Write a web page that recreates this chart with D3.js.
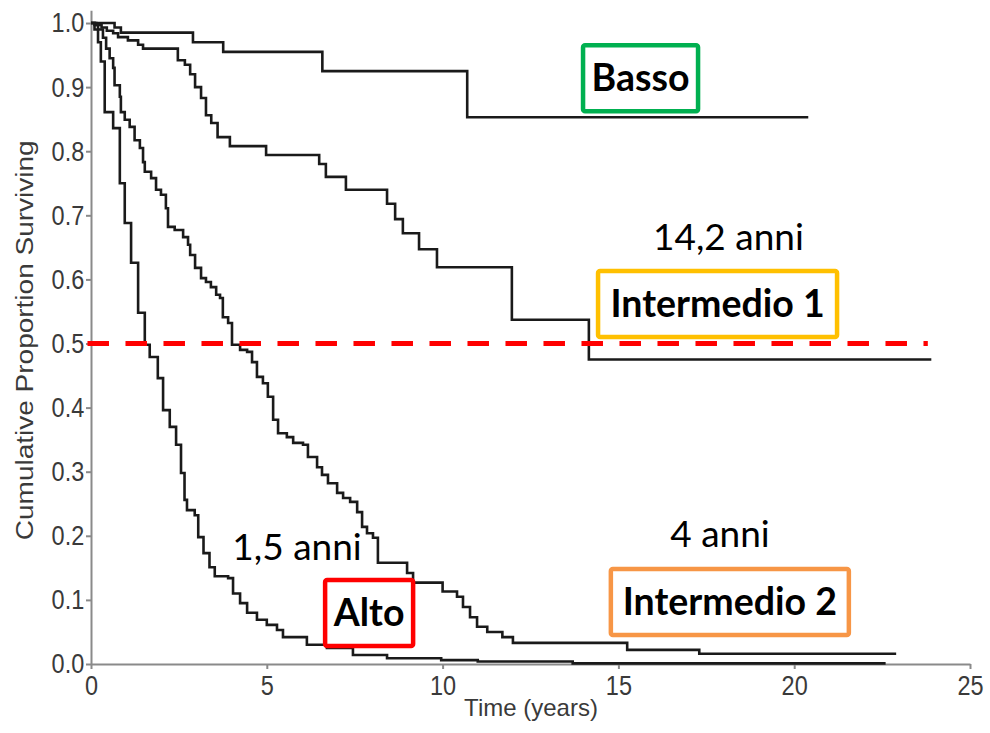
<!DOCTYPE html>
<meta charset="utf-8">
<style>
body { margin: 0; background: #fff; }
svg { display: block; }
.axis path, .axis line { stroke: #8a8a8a; stroke-width: 2; }
.axis text { font-family: "Liberation Sans", Arial, sans-serif; font-size: 28px; fill: #3a3a3a; }
.title { font-family: "Liberation Sans", Arial, sans-serif; fill: #3a3a3a; }
.curve { fill: none; stroke: #1a1a1a; stroke-width: 2.6; }
.note { font-family: Lato, "Open Sans", sans-serif; fill: #000; }
</style>
<body>
<div id="chart-container"></div>
<script src="https://cdnjs.cloudflare.com/ajax/libs/d3/7.8.5/d3.min.js"></script>
<script>
// Kaplan-Meier curves: time in years, proportion surviving
var bassoT = [0, 0.67, 0.85, 2.9, 3.76, 6.58, 10.7, 20.4];
var bassoS = [1, 0.993, 0.985, 0.97, 0.955, 0.925, 0.853, 0.853];

var int1T = [0, 0.15, 0.3, 0.45, 0.63, 0.77, 1.05, 1.34, 1.48, 2.47, 2.67, 2.82, 2.96, 3.13, 3.27, 3.42, 3.6, 3.95, 4.98, 6.49, 6.68, 7.25, 8.42, 8.65, 8.87, 9.33, 9.84, 11.97, 14.16, 23.9];
var int1S = [1, 0.997, 0.993, 0.988, 0.984, 0.978, 0.973, 0.966, 0.96, 0.942, 0.935, 0.92, 0.9, 0.883, 0.856, 0.844, 0.822, 0.808, 0.794, 0.78, 0.76, 0.74, 0.718, 0.694, 0.672, 0.647, 0.619, 0.537, 0.475, 0.475];

var int2T = [0, 0.1, 0.2, 0.34, 0.43, 0.53, 0.63, 0.67, 0.82, 0.85, 0.96, 1.1, 1.24, 1.39, 1.48, 1.53, 1.71, 1.85, 1.99, 2.13, 2.19, 2.38, 2.62, 2.76, 2.82, 2.96, 3.13, 3.27, 3.41, 3.56, 3.67, 3.75, 3.9, 4.01, 4.24, 4.44, 4.58, 4.72, 4.89, 5.03, 5.18, 5.32, 5.57, 5.75, 6.03, 6.17, 6.43, 6.57, 6.74, 7.0, 7.17, 7.37, 7.57, 7.71, 7.85, 8.02, 8.16, 8.99, 9.16, 10.0, 10.41, 10.58, 10.78, 10.98, 11.27, 11.7, 12.0, 15.25, 17.3, 22.9];
var int2S = [1, 0.997, 0.99, 0.977, 0.96, 0.945, 0.93, 0.903, 0.885, 0.861, 0.849, 0.838, 0.817, 0.805, 0.783, 0.768, 0.758, 0.74, 0.732, 0.711, 0.682, 0.677, 0.666, 0.654, 0.638, 0.618, 0.602, 0.596, 0.588, 0.576, 0.571, 0.541, 0.532, 0.498, 0.49, 0.487, 0.471, 0.448, 0.438, 0.417, 0.381, 0.36, 0.354, 0.345, 0.342, 0.323, 0.307, 0.295, 0.282, 0.267, 0.259, 0.253, 0.237, 0.214, 0.204, 0.197, 0.158, 0.142, 0.127, 0.113, 0.105, 0.089, 0.073, 0.058, 0.05, 0.042, 0.033, 0.022, 0.016, 0.016];

var altoT = [0, 0.1, 0.2, 0.28, 0.39, 0.63, 0.82, 0.96, 1.14, 1.34, 1.53, 1.67, 1.9, 2.05, 2.24, 2.42, 2.56, 2.66, 2.73, 2.95, 3.05, 3.2, 3.37, 3.52, 3.9, 4.04, 4.24, 4.44, 4.72, 5.0, 5.29, 5.46, 5.95, 6.14, 6.71, 7.45, 8.42, 9.96, 11.0, 13.7, 22.6];
var altoS = [1, 0.99, 0.97, 0.94, 0.861, 0.836, 0.75, 0.688, 0.626, 0.548, 0.498, 0.479, 0.446, 0.396, 0.37, 0.342, 0.298, 0.256, 0.24, 0.232, 0.198, 0.173, 0.151, 0.137, 0.134, 0.11, 0.095, 0.08, 0.069, 0.061, 0.053, 0.042, 0.042, 0.03, 0.025, 0.014, 0.009, 0.006, 0.004, 0.001, 0.001];

var xTicks = [0, 5, 10, 15, 20, 25];
var yTicks = [0, 0.1, 0.2, 0.3, 0.4, 0.5, 0.6, 0.7, 0.8, 0.9, 1.0];
var median = 0.5;

// risk group tags: name, colour, centre (years, proportion)
var tagNames = ["Basso", "Intermedio 1", "Alto", "Intermedio 2"];
var tagColors = ["#00b050", "#ffc000", "#ff0000", "#f79646"];
var tagT = [15.63, 17.82, 7.91, 18.17];
var tagS = [0.914, 0.5616, 0.0796, 0.0967];
var tagW = [115, 239, 88, 238];

// median survival notes
var noteText = ["14,2 anni", "1,5 anni", "4 anni"];
var noteT = [18.13, 5.86, 17.89];
var noteS = [0.646, 0.162, 0.1825];

var width = 990, height = 733;
var svg = d3.select("#chart-container").append("svg")
    .attr("width", width)
    .attr("height", height);

var x = d3.scaleLinear().domain([0, 25]).range([91, 970]);
var y = d3.scaleLinear().domain([0, 1.02]).range([664, 10.2]);

// axes, with the squeezed look of the original figure
var xAxis = d3.axisBottom(x).tickValues(xTicks).tickSize(5).tickSizeOuter(0).tickPadding(6);
var yAxis = d3.axisLeft(y).tickValues(yTicks).tickFormat(d3.format(".1f")).tickSize(5).tickSizeOuter(0).tickPadding(3);

svg.append("g")
    .attr("class", "axis axis--x")
    .attr("transform", "translate(0," + y(0) + ")")
    .call(xAxis)
    .selectAll("text")
    .attr("transform", "scale(0.84,1)");

svg.append("g")
    .attr("class", "axis axis--y")
    .attr("transform", "translate(" + x(0) + ",0)")
    .call(yAxis)
    .selectAll("text")
    .attr("transform", "scale(0.84,1)");

svg.append("text")
    .attr("class", "title")
    .attr("transform", "translate(33," + y(0.505) + ") rotate(-90) scale(1,0.84)")
    .attr("text-anchor", "middle")
    .style("font-size", "28px")
    .text("Cumulative Proportion Surviving");

svg.append("text")
    .attr("class", "title")
    .attr("x", 531)
    .attr("y", 716)
    .attr("text-anchor", "middle")
    .style("font-size", "24px")
    .text("Time (years)");

// survival curves
var line = d3.line()
    .x(function(d) { return x(d[0]); })
    .y(function(d) { return y(d[1]); })
    .curve(d3.curveStepAfter);

var groups = [[bassoT, bassoS], [int1T, int1S], [int2T, int2S], [altoT, altoS]];
groups.forEach(function(g) {
    svg.append("path")
        .attr("class", "curve")
        .attr("d", line(d3.zip(g[0], g[1])));
});

// median line
svg.append("line")
    .attr("x1", x(-0.1))
    .attr("x2", x(23.8))
    .attr("y1", y(median))
    .attr("y2", y(median))
    .attr("stroke", "#ff0000")
    .attr("stroke-width", 5)
    .attr("stroke-dasharray", "21.5,16.5");

// notes
noteText.forEach(function(t, i) {
    svg.append("text")
        .attr("class", "note")
        .attr("x", x(noteT[i]))
        .attr("y", y(noteS[i]))
        .attr("text-anchor", "middle")
        .style("font-size", "37px")
        .text(t);
});

// tags
tagNames.forEach(function(t, i) {
    var cx = x(tagT[i]), cy = y(tagS[i]);
    svg.append("rect")
        .attr("x", cx - tagW[i] / 2)
        .attr("y", cy - 33)
        .attr("width", tagW[i])
        .attr("height", 66)
        .attr("rx", 2)
        .attr("fill", "#fff")
        .attr("stroke", tagColors[i])
        .attr("stroke-width", 4.5);
    svg.append("text")
        .attr("class", "note")
        .attr("x", cx)
        .attr("y", cy + 13)
        .attr("text-anchor", "middle")
        .style("font-size", "37.5px")
        .style("font-weight", "bold")
        .text(t);
});
</script>
</body>
</html>
